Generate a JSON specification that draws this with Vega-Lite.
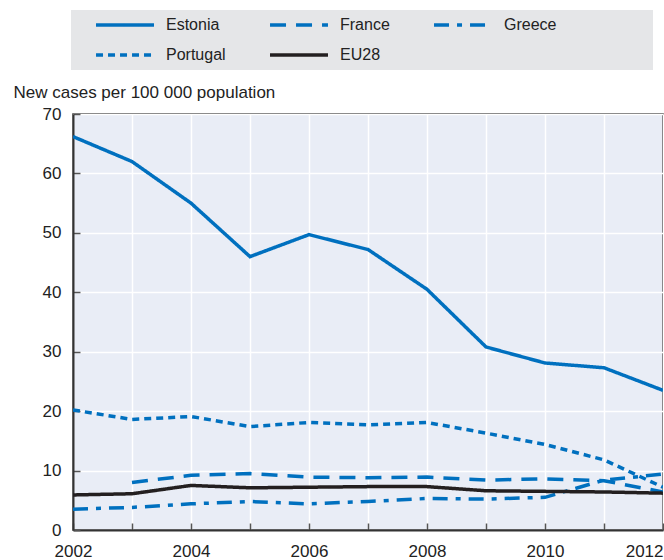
{
  "$schema": "https://vega.github.io/schema/vega-lite/v6.json",
  "width": 590,
  "height": 416,
  "autosize": {"type": "none"},
  "padding": {"left": 73, "top": 114, "right": 1, "bottom": 30},
  "background": "white",
  "config": {
    "font": "Liberation Sans, Arial, sans-serif",
    "view": {"fill": "#e9edf6", "stroke": "#333333", "strokeWidth": 1.5}
  },
  "data": {
    "values": [
      {"country": "Estonia", "year": 2002, "rate": 66.2},
      {"country": "Estonia", "year": 2003, "rate": 62.0},
      {"country": "Estonia", "year": 2004, "rate": 55.0},
      {"country": "Estonia", "year": 2005, "rate": 46.0},
      {"country": "Estonia", "year": 2006, "rate": 49.7},
      {"country": "Estonia", "year": 2007, "rate": 47.2},
      {"country": "Estonia", "year": 2008, "rate": 40.5},
      {"country": "Estonia", "year": 2009, "rate": 30.8},
      {"country": "Estonia", "year": 2010, "rate": 28.1},
      {"country": "Estonia", "year": 2011, "rate": 27.3},
      {"country": "Estonia", "year": 2012, "rate": 23.5},
      {"country": "France", "year": 2003, "rate": 8.0},
      {"country": "France", "year": 2004, "rate": 9.2},
      {"country": "France", "year": 2005, "rate": 9.5},
      {"country": "France", "year": 2006, "rate": 8.9},
      {"country": "France", "year": 2007, "rate": 8.8},
      {"country": "France", "year": 2008, "rate": 8.9},
      {"country": "France", "year": 2009, "rate": 8.4},
      {"country": "France", "year": 2010, "rate": 8.6},
      {"country": "France", "year": 2011, "rate": 8.3},
      {"country": "France", "year": 2012, "rate": 6.4},
      {"country": "Greece", "year": 2002, "rate": 3.5},
      {"country": "Greece", "year": 2003, "rate": 3.8},
      {"country": "Greece", "year": 2004, "rate": 4.4},
      {"country": "Greece", "year": 2005, "rate": 4.8},
      {"country": "Greece", "year": 2006, "rate": 4.4},
      {"country": "Greece", "year": 2007, "rate": 4.8},
      {"country": "Greece", "year": 2008, "rate": 5.3},
      {"country": "Greece", "year": 2009, "rate": 5.2},
      {"country": "Greece", "year": 2010, "rate": 5.5},
      {"country": "Greece", "year": 2011, "rate": 8.4},
      {"country": "Greece", "year": 2012, "rate": 9.4},
      {"country": "Portugal", "year": 2002, "rate": 20.2},
      {"country": "Portugal", "year": 2003, "rate": 18.6},
      {"country": "Portugal", "year": 2004, "rate": 19.1},
      {"country": "Portugal", "year": 2005, "rate": 17.4},
      {"country": "Portugal", "year": 2006, "rate": 18.1},
      {"country": "Portugal", "year": 2007, "rate": 17.7},
      {"country": "Portugal", "year": 2008, "rate": 18.1},
      {"country": "Portugal", "year": 2009, "rate": 16.3},
      {"country": "Portugal", "year": 2010, "rate": 14.4},
      {"country": "Portugal", "year": 2011, "rate": 11.8},
      {"country": "Portugal", "year": 2012, "rate": 7.2},
      {"country": "EU28", "year": 2002, "rate": 5.9},
      {"country": "EU28", "year": 2003, "rate": 6.1},
      {"country": "EU28", "year": 2004, "rate": 7.5},
      {"country": "EU28", "year": 2005, "rate": 7.1},
      {"country": "EU28", "year": 2006, "rate": 7.2},
      {"country": "EU28", "year": 2007, "rate": 7.3},
      {"country": "EU28", "year": 2008, "rate": 7.3},
      {"country": "EU28", "year": 2009, "rate": 6.6},
      {"country": "EU28", "year": 2010, "rate": 6.5},
      {"country": "EU28", "year": 2011, "rate": 6.4},
      {"country": "EU28", "year": 2012, "rate": 6.2}
    ]
  },
  "mark": {"type": "line", "clip": true},
  "encoding": {
    "x": {
      "field": "year",
      "type": "quantitative",
      "scale": {"domain": [2002, 2012], "nice": false, "zero": false},
      "axis": {
        "title": null,
        "values": [2002, 2003, 2004, 2005, 2006, 2007, 2008, 2009, 2010, 2011, 2012],
        "format": "d",
        "labelExpr": "datum.value % 2 === 0 ? datum.label : ''",
        "labelAlign": {"condition": {"test": "datum.value === 2012", "value": "right"}, "value": "center"},
        "labelFontSize": 17,
        "labelColor": "#222222",
        "labelPadding": 20,
        "labelOverlap": false,
        "tickSize": -7,
        "tickColor": "#555555",
        "tickWidth": 1.5,
        "domainColor": "#333333",
        "domainWidth": 2,
        "gridColor": "#ffffff",
        "gridWidth": 1.5,
        "gridOpacity": 1
      }
    },
    "y": {
      "field": "rate",
      "type": "quantitative",
      "scale": {"domain": [0, 70], "nice": false},
      "axis": {
        "title": "New cases per 100 000 population",
        "titleAngle": 0,
        "titleX": -60,
        "titleY": -17,
        "titleAlign": "left",
        "titleBaseline": "alphabetic",
        "titleFontSize": 17,
        "titleFontWeight": "normal",
        "titleColor": "#222222",
        "values": [0, 10, 20, 30, 40, 50, 60, 70],
        "labelFontSize": 17,
        "labelColor": "#222222",
        "labelPadding": 19,
        "tickSize": -7,
        "tickColor": "#555555",
        "tickWidth": 1.5,
        "domainColor": "#333333",
        "domainWidth": 2,
        "gridColor": "#ffffff",
        "gridWidth": 1.5,
        "gridOpacity": 1
      }
    },
    "color": {
      "field": "country",
      "type": "nominal",
      "scale": {
        "domain": ["Estonia", "France", "Greece", "Portugal", "EU28"],
        "range": ["#0070bf", "#0070bf", "#0070bf", "#0070bf", "#231f20"]
      },
      "legend": {
        "title": "\u00a0",
        "titleOrient": "right",
        "titlePadding": 90,
        "orient": "none",
        "legendX": -2,
        "legendY": -104,
        "direction": "horizontal",
        "columns": 3,
        "columnPadding": 26,
        "rowPadding": 14,
        "padding": 7,
        "symbolOffset": 39,
        "fillColor": "#e5e6e8",
        "symbolType": "M-4.83,0H4.83",
        "symbolSize": 144,
        "labelFontSize": 16,
        "labelColor": "#222222",
        "labelOffset": 33,
        "labelLimit": 200
      }
    },
    "strokeDash": {
      "field": "country",
      "type": "nominal",
      "scale": {
        "domain": ["Estonia", "France", "Greece", "Portugal", "EU28"],
        "range": [[1, 0], [16, 10], [15, 8, 5, 8], [7, 5], [1, 0]]
      }
    },
    "strokeWidth": {
      "field": "country",
      "type": "nominal",
      "scale": {
        "domain": ["Estonia", "France", "Greece", "Portugal", "EU28"],
        "range": [3.5, 3.5, 3.5, 3.5, 5.5]
      }
    }
  }
}
